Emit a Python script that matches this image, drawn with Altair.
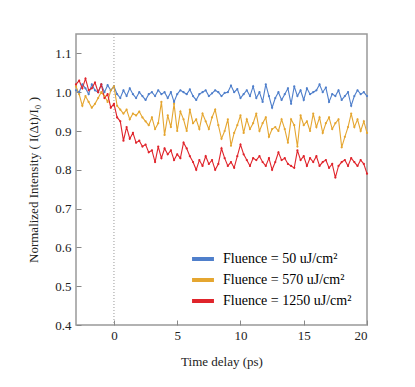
import altair as alt
import pandas as pd

x_start = -3.0
x_step = 0.25

blue = [1.005, 1.0, 1.02, 1.01, 0.995, 1.02, 1.005, 1.0, 1.02, 1.0, 1.018, 1.005,
        1.015, 0.995, 0.985, 1.005, 0.99, 1.01, 0.995, 0.985, 1.0, 0.99, 0.98, 0.995, 1.0, 0.99, 1.005, 0.995, 1.0, 0.985, 1.0, 0.975,
        0.995, 1.005, 1.0, 0.995, 1.007, 0.99, 0.98, 0.995, 1.0, 1.005, 0.99, 0.997, 1.005, 1.0, 0.99, 0.998, 1.0, 1.017, 1.0, 1.008,
        0.985, 0.995, 1.005, 0.99, 1.015, 0.985, 1.0, 0.975, 1.02, 0.99, 0.96, 0.985, 1.0, 0.98, 0.995, 1.01, 0.97, 1.015, 0.99, 1.005,
        0.98, 1.01, 0.995, 1.0, 1.005, 1.02, 1.0, 1.012, 0.975, 0.995, 0.99, 1.005, 0.98, 0.99, 1.0, 0.965, 0.99, 1.005, 0.995, 1.0, 0.99]

yellow = [1.015, 0.995, 0.965, 0.99, 0.975, 0.96, 0.97, 0.985, 1.0, 0.99, 0.975, 1.005,
          1.015, 0.965, 0.955, 0.945, 0.955, 0.93, 0.945, 0.94, 0.95, 0.935, 0.925, 0.915, 0.935, 0.905, 0.92, 0.975, 0.89, 0.94, 0.91, 0.97,
          0.9, 0.95, 0.93, 0.9, 0.955, 0.92, 0.93, 0.905, 0.945, 0.925, 0.905, 0.935, 0.955, 0.915, 0.88, 0.9, 0.93, 0.862, 0.895, 0.915,
          0.94, 0.895, 0.93, 0.905, 0.92, 0.945, 0.9, 0.92, 0.935, 0.885, 0.905, 0.91, 0.9, 0.93, 0.905, 0.87, 0.93, 0.915, 0.86, 0.94,
          0.915, 0.925, 0.9, 0.945, 0.91, 0.935, 0.895, 0.92, 0.935, 0.905, 0.92, 0.93, 0.858, 0.885, 0.91, 0.945, 0.91, 0.93, 0.9, 0.925, 0.895]

red = [1.02, 1.03, 1.01, 1.035, 1.005, 1.01, 1.025, 1.0, 1.02, 0.985, 0.995, 0.96,
       0.97, 0.935, 0.925, 0.875, 0.91, 0.88, 0.895, 0.87, 0.875, 0.86, 0.865, 0.845, 0.85, 0.82, 0.86, 0.83, 0.855, 0.84, 0.85, 0.825,
       0.84, 0.83, 0.87, 0.855, 0.835, 0.82, 0.8, 0.825, 0.81, 0.835, 0.815, 0.825, 0.8, 0.815, 0.855, 0.83, 0.81, 0.82, 0.805, 0.835,
       0.865, 0.84, 0.825, 0.81, 0.83, 0.825, 0.835, 0.82, 0.81, 0.83, 0.80, 0.82, 0.845, 0.825, 0.83, 0.815, 0.81, 0.805, 0.85, 0.825,
       0.835, 0.81, 0.83, 0.82, 0.835, 0.81, 0.82, 0.825, 0.805, 0.815, 0.78, 0.81, 0.82, 0.825, 0.81, 0.83, 0.82, 0.81, 0.825, 0.815, 0.79]

labels = ["Fluence = 50 uJ/cm\u00b2", "Fluence = 570 uJ/cm\u00b2", "Fluence = 1250 uJ/cm\u00b2"]
colors = ["#4F7FCB", "#E5A630", "#E0242B"]
x_ticks = [0, 5, 10, 15, 20]
y_ticks = [0.4, 0.5, 0.6, 0.7, 0.8, 0.9, 1.0, 1.1]

rows = []
for lab, series in zip(labels, [blue, yellow, red]):
    for i, v in enumerate(series):
        rows.append({"t": round(x_start + i * x_step, 3), "I": v, "series": lab})
df = pd.DataFrame(rows)

FONT = "Liberation Serif"

xscale = alt.Scale(domain=[-3, 20], nice=False, zero=False)
yscale = alt.Scale(domain=[0.4, 1.15], nice=False, zero=False)

zero_line = alt.Chart(pd.DataFrame({"t": [0]})).mark_rule(
    color="#999999", strokeDash=[1, 2], strokeWidth=1
).encode(x=alt.X("t:Q", scale=xscale))

lines = alt.Chart(df).mark_line(
    strokeWidth=1.1,
    point=alt.OverlayMarkDef(size=5, filled=True),
).encode(
    x=alt.X("t:Q", scale=xscale,
            axis=alt.Axis(values=x_ticks, title="Time delay (ps)", titlePadding=13,
                          offset=-5, tickSize=5, domain=False, labelPadding=4,
                          tickColor="#888888", grid=False,
                          labelFont=FONT, titleFont=FONT)),
    y=alt.Y("I:Q", scale=yscale,
            axis=alt.Axis(values=y_ticks, format=".1f",
                          title="Normalized Intensity ( I(\u0394t)/I\u2080 )", titlePadding=14,
                          offset=-5, tickSize=5, domain=False, labelPadding=5,
                          tickColor="#888888", grid=False,
                          labelFont=FONT, titleFont=FONT)),
    color=alt.Color("series:N", scale=alt.Scale(domain=labels, range=colors),
                    sort=labels,
                    legend=alt.Legend(title=None, orient="none", legendX=114, legendY=212,
                                      symbolType="stroke", symbolStrokeWidth=4, symbolSize=480,
                                      labelFontSize=14, labelFont=FONT, rowPadding=0,
                                      labelOffset=7, labelColor="#000000")),
    detail="series:N",
)

chart = alt.layer(zero_line, lines).properties(
    width=291, height=291,
    padding={"left": 19, "top": 25, "right": 5, "bottom": 5},
).configure(font=FONT).configure_view(
    stroke="#999999", strokeWidth=1.5
).configure_axis(
    labelFont=FONT, titleFont=FONT, labelFontSize=13, titleFontSize=13,
    labelColor="#222222", titleColor="#222222", titleFontWeight="normal"
)

chart.save("out.html", embed_options={"renderer": "svg", "actions": False})
